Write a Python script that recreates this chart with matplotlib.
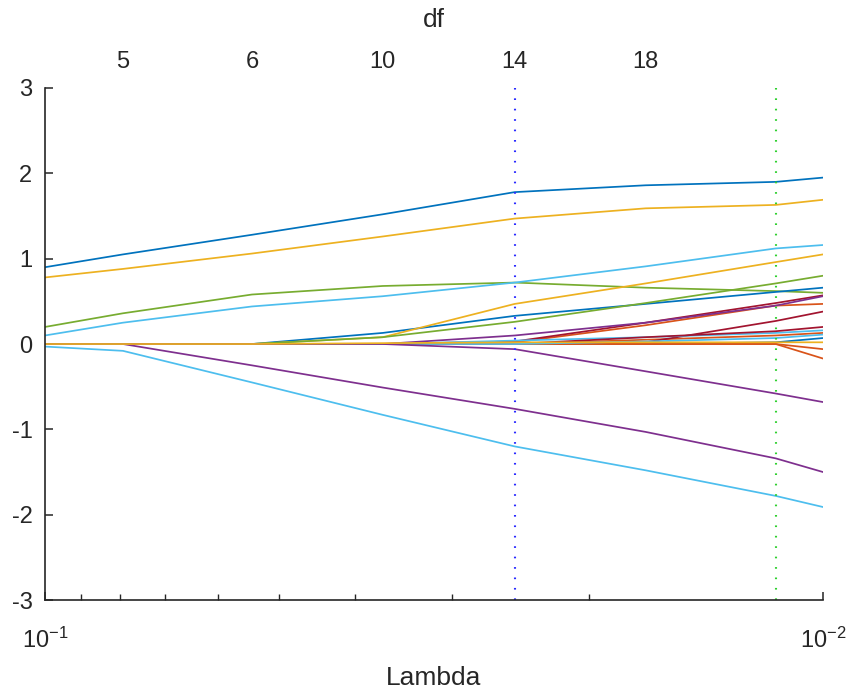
import matplotlib
matplotlib.use("Agg")
import matplotlib.pyplot as plt
import numpy as np
from matplotlib.ticker import FixedLocator, NullFormatter

plt.rcParams['font.family'] = ['Liberation Sans', 'DejaVu Sans']
plt.rcParams['mathtext.fontset'] = 'custom'
plt.rcParams['mathtext.rm'] = 'Liberation Sans'
plt.rcParams['mathtext.it'] = 'Liberation Sans'

# Lambda grid (decreasing, log scale)
lam = [0.1, 0.0794, 0.0542, 0.0368, 0.0249, 0.0169, 0.0115, 0.01]

# Coefficient traces: (color, values at each lambda)
C_BLUE = '#0072BD'; C_ORRED = '#D95319'; C_YEL = '#EDB120'; C_PURP = '#7E2F8E'
C_GREEN = '#77AC30'; C_LBLUE = '#4DBEEE'; C_DRED = '#A2142F'

blue1   = [0.90, 1.05, 1.28, 1.52, 1.78, 1.86, 1.90, 1.95]
blue2   = [0.00, 0.00, 0.00, 0.13, 0.33, 0.47, 0.61, 0.66]
blue3   = [0.00, 0.00, 0.00, 0.00, 0.00, 0.00, 0.02, 0.07]
yel1    = [0.78, 0.88, 1.06, 1.26, 1.47, 1.59, 1.63, 1.69]
yel2    = [0.00, 0.00, 0.00, 0.08, 0.47, 0.71, 0.96, 1.05]
yel3    = [0.00, 0.00, 0.00, 0.01, 0.02, 0.02, 0.02, 0.02]
green1  = [0.20, 0.36, 0.58, 0.68, 0.72, 0.66, 0.62, 0.60]
green2  = [0.00, 0.00, 0.00, 0.08, 0.26, 0.48, 0.71, 0.80]
lblue1  = [0.10, 0.25, 0.44, 0.56, 0.72, 0.91, 1.12, 1.16]
lblue2  = [-0.03, -0.08, -0.45, -0.83, -1.20, -1.48, -1.78, -1.91]
lblue3  = [0.00, 0.00, 0.00, 0.00, 0.04, 0.08, 0.13, 0.16]
lblue4  = [0.00, 0.00, 0.00, 0.00, 0.00, 0.03, 0.07, 0.11]
purp1   = [0.00, 0.00, -0.25, -0.51, -0.76, -1.03, -1.34, -1.50]
purp3   = [0.00, 0.00, 0.00, 0.00, 0.10, 0.25, 0.45, 0.56]
dred1   = [0.00, 0.00, 0.00, 0.00, 0.03, 0.25, 0.48, 0.57]
dred2   = [0.00, 0.00, 0.00, 0.00, 0.00, 0.02, 0.27, 0.38]
dred3   = [0.00, 0.00, 0.00, 0.00, 0.00, 0.08, 0.15, 0.20]
orred1  = [0.00, 0.00, 0.00, 0.00, 0.02, 0.22, 0.45, 0.47]
orred2  = [0.00, 0.00, 0.00, 0.00, 0.00, 0.05, 0.10, 0.13]
orred3  = [0.00, 0.00, 0.00, 0.00, 0.00, 0.00, 0.00, -0.06]
orred4  = [0.00, 0.00, 0.00, 0.00, 0.00, 0.00, 0.00, -0.17]
purp2   = [0.00, 0.00, 0.00, 0.00, -0.06, -0.32, -0.58, -0.68]

series = [
    (C_BLUE, blue1), (C_ORRED, orred1), (C_YEL, yel1), (C_PURP, purp1),
    (C_GREEN, green1), (C_LBLUE, lblue1), (C_DRED, dred1),
    (C_BLUE, blue2), (C_ORRED, orred2), (C_YEL, yel2), (C_PURP, purp3),
    (C_GREEN, green2), (C_LBLUE, lblue2), (C_DRED, dred2),
    (C_BLUE, blue3), (C_ORRED, orred3), (C_LBLUE, lblue3), (C_DRED, dred3),
    (C_ORRED, orred4), (C_LBLUE, lblue4), (C_PURP, purp2), (C_YEL, yel3),
]

lambda_1se = 0.0249
lambda_minmse = 0.0115

df_lambda = [0.0794, 0.0542, 0.0368, 0.0249, 0.0169]
df_labels = ['5', '6', '10', '14', '18']

AX_COL = '#262626'

fig = plt.figure(figsize=(8.52, 6.94), dpi=100)
ax = fig.add_axes([0.0528, 0.1354, 0.9131, 0.7378])

for col, vals in series:
    ax.plot(lam, vals, color=col, lw=1.25, solid_joinstyle='round')

ax.axvline(lambda_1se, color='#2a2aff', lw=1.5, dashes=(0.8, 4.2))
ax.axvline(lambda_minmse, color='#2fd02f', lw=1.5, dashes=(0.8, 4.2))

ax.set_xscale('log')
ax.set_xlim(0.1, 0.01)
ax.set_ylim(-3, 3)
ax.set_yticks([-3, -2, -1, 0, 1, 2, 3])
ax.set_yticklabels(['-3', '-2', '-1', '0', '1', '2', '3'])
ax.set_xticks([0.1, 0.01])
ax.set_xticklabels([r'$10^{-1}$', r'$10^{-2}$'])
ax.xaxis.set_minor_locator(FixedLocator([k * 0.01 for k in range(2, 10)]))
ax.xaxis.set_minor_formatter(NullFormatter())

for s in ['top', 'right']:
    ax.spines[s].set_visible(False)
for s in ['left', 'bottom']:
    ax.spines[s].set_color(AX_COL)
    ax.spines[s].set_linewidth(1.2)

ax.tick_params(axis='both', which='major', direction='in', color=AX_COL,
               labelcolor=AX_COL, labelsize=17, length=6, width=1.1)
ax.tick_params(axis='x', which='minor', direction='in', color=AX_COL,
               length=4, width=1.0)
ax.tick_params(axis='x', which='major', pad=20)
ax.tick_params(axis='y', which='major', pad=9)
ax.set_xlabel('Lambda', fontsize=19, color=AX_COL, labelpad=9)

# top df axis
ax2 = ax.twiny()
ax2.set_xscale('log')
ax2.set_xlim(0.1, 0.01)
for s in ax2.spines.values():
    s.set_visible(False)
ax2.set_xticks(df_lambda)
ax2.set_xticklabels(df_labels)
ax2.xaxis.set_minor_locator(FixedLocator([]))
ax2.tick_params(axis='x', which='both', length=0, labelsize=17,
                labelcolor=AX_COL, pad=11)
ax2.set_xlabel('df', fontsize=19, color=AX_COL, labelpad=17)

fig.savefig('out.png', dpi=100)
